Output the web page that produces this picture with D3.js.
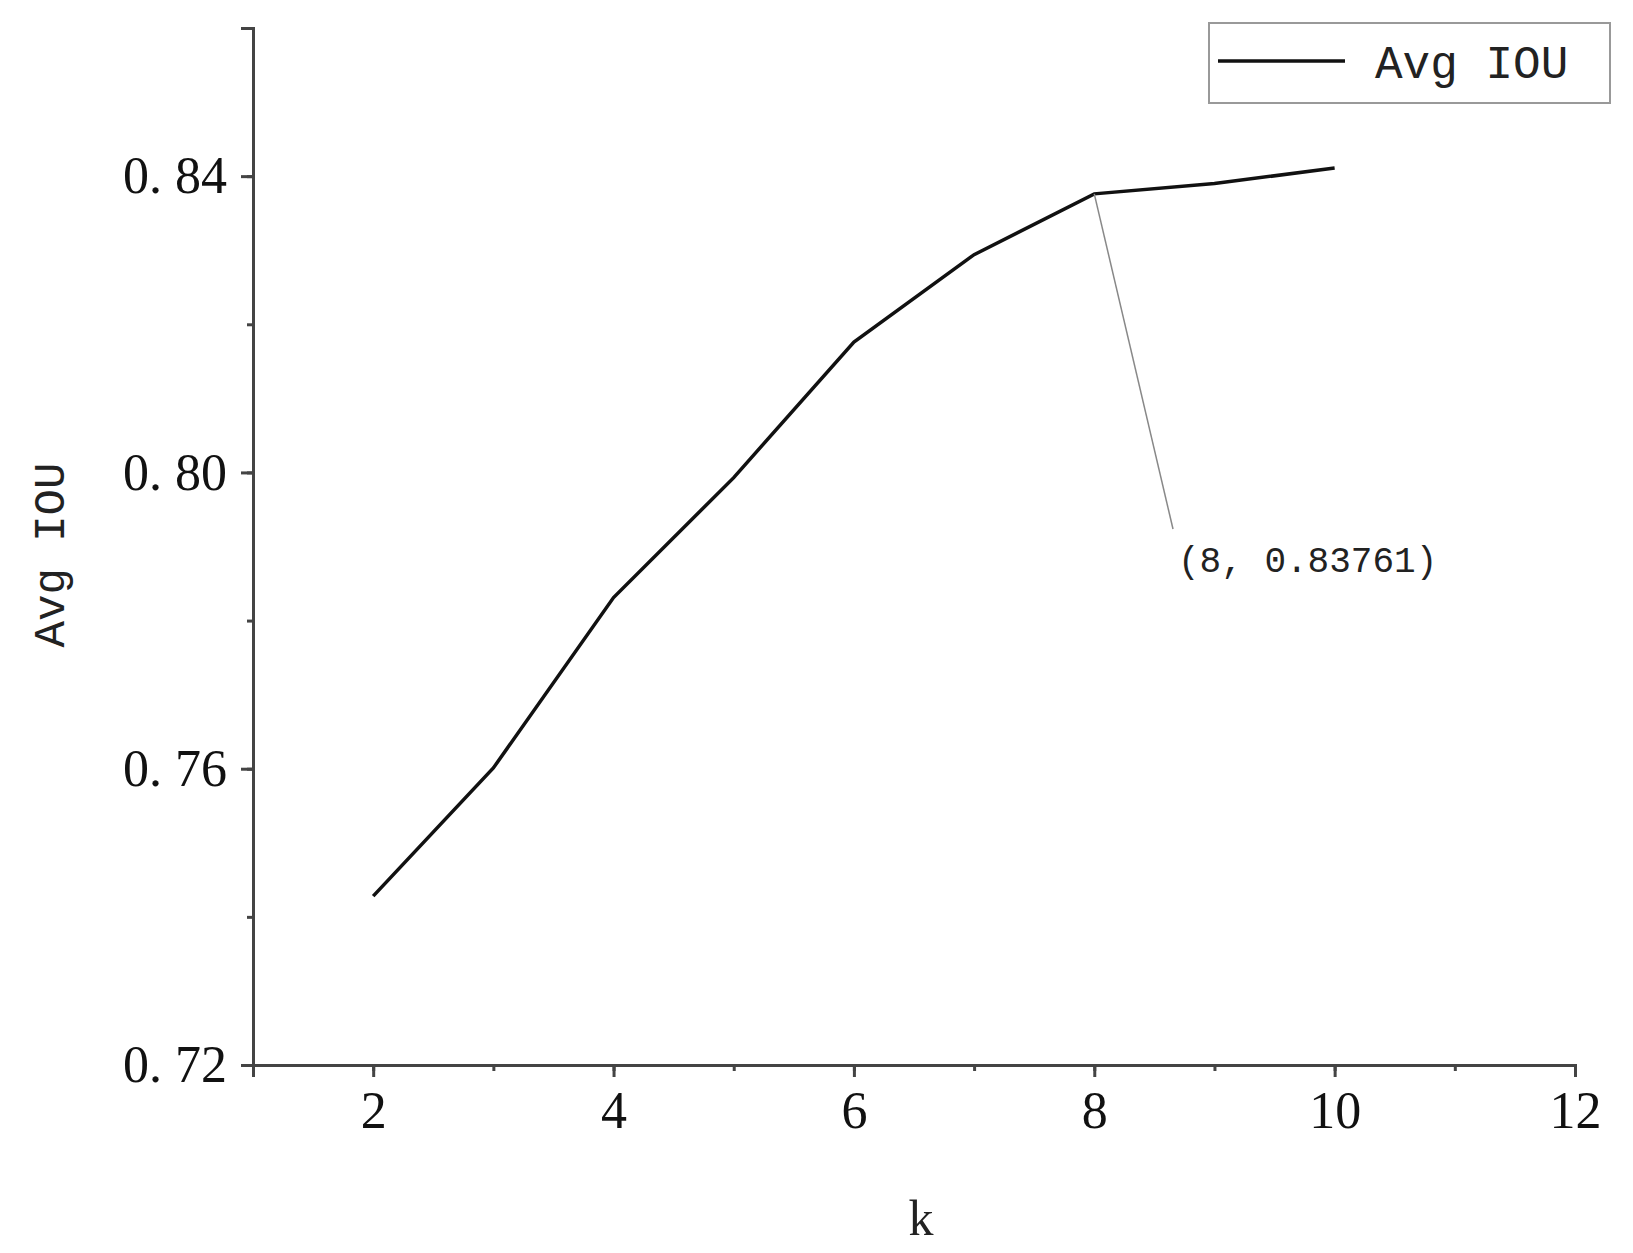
<!DOCTYPE html>
<html><head><meta charset="utf-8">
<script src="https://cdn.jsdelivr.net/npm/d3@7"></script>
<style>body{margin:0;background:#fff}</style>
</head><body>
<svg id="chart" width="1633" height="1253"></svg>
<script>
const kValues = [2, 3, 4, 5, 6, 7, 8, 9, 10];
const avgIou = [0.7428, 0.7601, 0.7831, 0.7993, 0.8176, 0.8294, 0.83761, 0.8390, 0.8411];
const xTicks = [2, 4, 6, 8, 10, 12];
const yTicks = [0.72, 0.76, 0.80, 0.84];

const svg = d3.select("#chart");
const plotLeft = 253, plotRight = 1575, plotTop = 28, plotBottom = 1065;
const x = d3.scaleLinear().domain([1, 12]).range([plotLeft, plotRight]);
const y = d3.scaleLinear().domain([0.72, 0.86]).range([plotBottom, plotTop]);
const serif = "'Liberation Serif', 'DejaVu Serif', serif";
const mono = "'Liberation Mono', 'DejaVu Sans Mono', monospace";

// minor ticks
svg.append("g").attr("transform", `translate(0,${plotBottom})`)
  .call(d3.axisBottom(x).tickValues(d3.range(1, 13)).tickSize(6).tickFormat(""));
svg.append("g").attr("transform", `translate(${plotLeft},0)`)
  .call(d3.axisLeft(y).tickValues(d3.range(0.72, 0.861, 0.02)).tickSize(6).tickFormat(""));
// major ticks
svg.append("g").attr("transform", `translate(0,${plotBottom})`)
  .call(d3.axisBottom(x).tickValues(xTicks).tickSize(12).tickPadding(14).tickFormat(d3.format("d")));
svg.append("g").attr("transform", `translate(${plotLeft},0)`)
  .call(d3.axisLeft(y).tickValues(yTicks).tickSize(12).tickPadding(14)
    .tickFormat(d => d.toFixed(2).replace(".", ". ")));
svg.selectAll(".domain, .tick line").attr("stroke", "#444").attr("stroke-width", 3);
svg.selectAll(".tick text").attr("font-family", serif).attr("font-size", 52).attr("fill", "#111");

// line
svg.append("path")
  .datum(kValues.map((k, i) => [k, avgIou[i]]))
  .attr("fill", "none").attr("stroke", "#111").attr("stroke-width", 3.5)
  .attr("d", d3.line().x(d => x(d[0])).y(d => y(d[1])));

// annotation
svg.append("line")
  .attr("x1", x(8)).attr("y1", y(0.83761)).attr("x2", 1173).attr("y2", 529)
  .attr("stroke", "#888").attr("stroke-width", 1.5);
svg.append("text").attr("x", 1178).attr("y", 572)
  .attr("font-family", mono).attr("font-size", 36).attr("fill", "#222")
  .text("(8, 0.83761)");

// axis titles
svg.append("text").attr("x", 921).attr("y", 1235).attr("text-anchor", "middle")
  .attr("font-family", serif).attr("font-size", 50).attr("fill", "#222").text("k");
svg.append("text").attr("transform", "translate(64,555) rotate(-90)").attr("text-anchor", "middle")
  .attr("font-family", mono).attr("font-size", 44).attr("fill", "#222").text("Avg IOU");

// legend
svg.append("rect").attr("x", 1209).attr("y", 23).attr("width", 401).attr("height", 80)
  .attr("fill", "#fff").attr("stroke", "#999").attr("stroke-width", 2);
svg.append("line").attr("x1", 1218).attr("x2", 1345).attr("y1", 61).attr("y2", 61)
  .attr("stroke", "#111").attr("stroke-width", 3.5);
svg.append("text").attr("x", 1375).attr("y", 78)
  .attr("font-family", mono).attr("font-size", 46).attr("fill", "#222").text("Avg IOU");
</script>
</body></html>
